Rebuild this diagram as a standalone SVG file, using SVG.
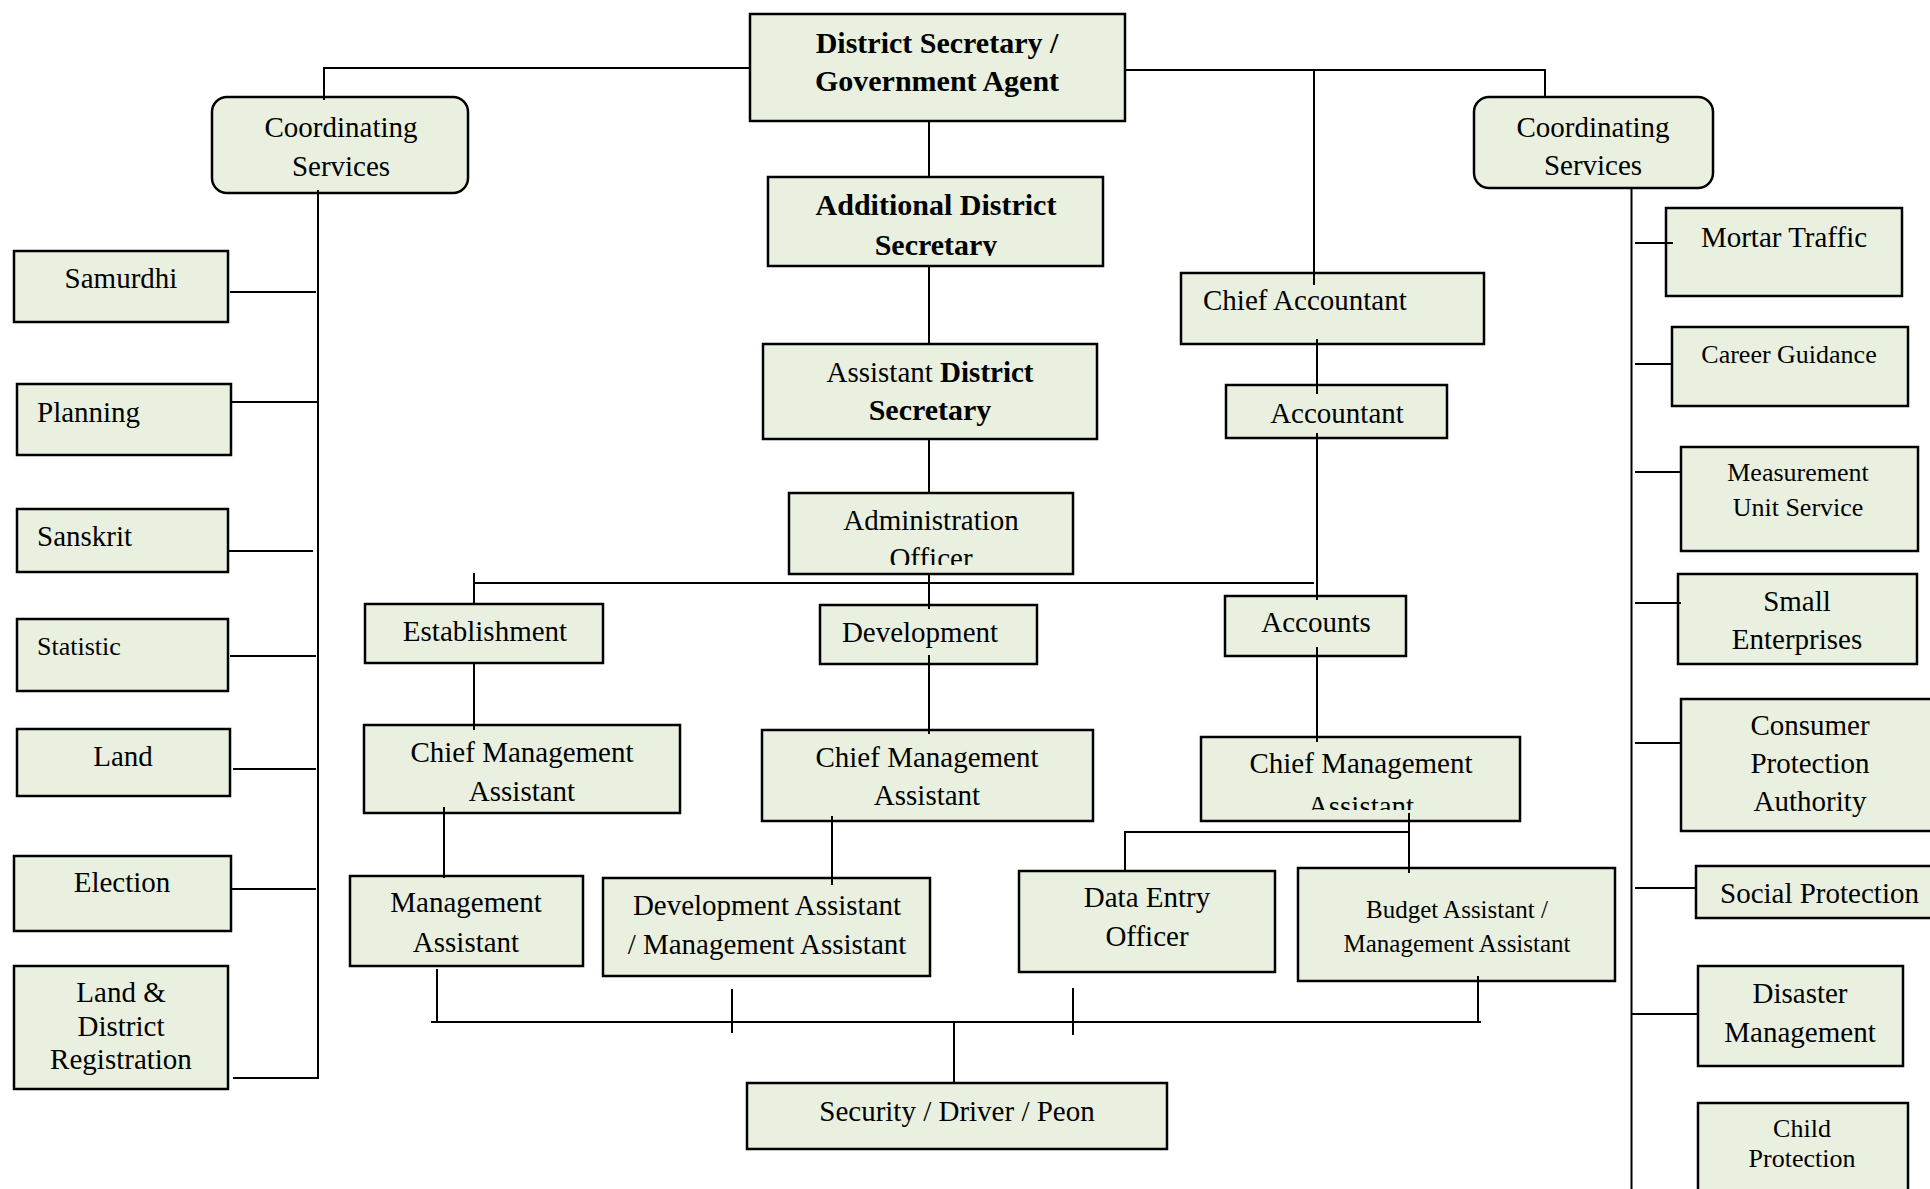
<svg xmlns="http://www.w3.org/2000/svg" width="1930" height="1189" viewBox="0 0 1930 1189">
<style>
.bx{fill:#e9f0df;stroke:#000;stroke-width:2.5}
.t{font-family:"Liberation Serif","Times New Roman",serif;font-size:29px;fill:#000;text-anchor:middle}
.b{font-weight:bold;font-size:30px}
.s26{font-size:26px}
.s25{font-size:25px}
.l{text-anchor:start}
.c{fill:none;stroke:#000;stroke-width:2}
</style>
<defs>
<clipPath id="clipAds"><rect x="768" y="177" width="335" height="79"/></clipPath>
<clipPath id="clipAo"><rect x="789" y="493" width="284" height="72"/></clipPath>
<clipPath id="clipCmaR"><rect x="1200" y="737" width="320" height="73"/></clipPath>
</defs>
<rect width="1930" height="1189" fill="#fff"/>

<g id="ds"><rect class="bx" x="750" y="14" width="375" height="107"/>
<text class="t b" x="937" y="53">District Secretary /</text>
<text class="t b" x="937" y="91">Government Agent</text></g>

<g id="coord-left"><rect class="bx" x="212" y="97" width="256" height="96" rx="15"/>
<text class="t" x="341" y="137">Coordinating</text>
<text class="t" x="341" y="176">Services</text></g>

<g id="coord-right"><rect class="bx" x="1474" y="97" width="239" height="91" rx="15"/>
<text class="t" x="1593" y="137">Coordinating</text>
<text class="t" x="1593" y="175">Services</text></g>

<g id="ads"><rect class="bx" x="768" y="177" width="335" height="89"/>
<g clip-path="url(#clipAds)"><text class="t b" x="936" y="215">Additional District</text>
<text class="t b" x="936" y="255">Secretary</text></g></g>

<g id="asds"><rect class="bx" x="763" y="344" width="334" height="95"/>
<text class="t" x="930" y="382">Assistant <tspan font-weight="bold">District</tspan></text>
<text class="t b" x="930" y="420">Secretary</text></g>

<g id="ao"><rect class="bx" x="789" y="493" width="284" height="81"/>
<g clip-path="url(#clipAo)"><text class="t" x="931" y="530">Administration</text>
<text class="t" x="931" y="568">Officer</text></g></g>

<g id="chief-accountant"><rect class="bx" x="1181" y="273" width="303" height="71"/>
<text class="t l" x="1203" y="310">Chief Accountant</text></g>

<g id="accountant"><rect class="bx" x="1226" y="385" width="221" height="53"/>
<text class="t" x="1337" y="423">Accountant</text></g>

<g id="establishment"><rect class="bx" x="365" y="604" width="238" height="59"/>
<text class="t" x="485" y="641">Establishment</text></g>

<g id="development"><rect class="bx" x="820" y="605" width="217" height="59"/>
<text class="t" x="920" y="642">Development</text></g>

<g id="accounts"><rect class="bx" x="1225" y="596" width="181" height="60"/>
<text class="t" x="1316" y="632">Accounts</text></g>

<g id="cma-left"><rect class="bx" x="364" y="725" width="316" height="88"/>
<text class="t" x="522" y="762">Chief Management</text>
<text class="t" x="522" y="801">Assistant</text></g>

<g id="cma-mid"><rect class="bx" x="762" y="730" width="331" height="91"/>
<text class="t" x="927" y="767">Chief Management</text>
<text class="t" x="927" y="805">Assistant</text></g>

<g id="cma-right"><rect class="bx" x="1201" y="737" width="319" height="84"/>
<text class="t" x="1361" y="773">Chief Management</text>
<g clip-path="url(#clipCmaR)"><text class="t" x="1361" y="816">Assistant</text></g></g>

<g id="ma"><rect class="bx" x="350" y="876" width="233" height="90"/>
<text class="t" x="466" y="912">Management</text>
<text class="t" x="466" y="952">Assistant</text></g>

<g id="dev-asst"><rect class="bx" x="603" y="878" width="327" height="98"/>
<text class="t" x="767" y="915">Development Assistant</text>
<text class="t" x="767" y="954">/ Management Assistant</text></g>

<g id="deo"><rect class="bx" x="1019" y="871" width="256" height="101"/>
<text class="t" x="1147" y="907">Data Entry</text>
<text class="t" x="1147" y="946">Officer</text></g>

<g id="budget"><rect class="bx" x="1298" y="868" width="317" height="113"/>
<text class="t s25" x="1457" y="918">Budget Assistant /</text>
<text class="t s25" x="1457" y="952">Management Assistant</text></g>

<g id="security"><rect class="bx" x="747" y="1083" width="420" height="66"/>
<text class="t" x="957" y="1121">Security / Driver / Peon</text></g>

<g id="samurdhi"><rect class="bx" x="14" y="251" width="214" height="71"/>
<text class="t" x="121" y="288">Samurdhi</text></g>

<g id="planning"><rect class="bx" x="17" y="384" width="214" height="71"/>
<text class="t l" x="37" y="422">Planning</text></g>

<g id="sanskrit"><rect class="bx" x="17" y="509" width="211" height="63"/>
<text class="t l" x="37" y="546">Sanskrit</text></g>

<g id="statistic"><rect class="bx" x="17" y="619" width="211" height="72"/>
<text class="t s26 l" x="37" y="655">Statistic</text></g>

<g id="land"><rect class="bx" x="17" y="729" width="213" height="67"/>
<text class="t" x="123" y="766">Land</text></g>

<g id="election"><rect class="bx" x="14" y="856" width="217" height="75"/>
<text class="t" x="122" y="892">Election</text></g>

<g id="land-district"><rect class="bx" x="14" y="966" width="214" height="123"/>
<text class="t" x="121" y="1002">Land &amp;</text>
<text class="t" x="121" y="1036">District</text>
<text class="t" x="121" y="1069">Registration</text></g>

<g id="mortar"><rect class="bx" x="1666" y="208" width="236" height="88"/>
<text class="t" x="1784" y="247">Mortar Traffic</text></g>

<g id="career"><rect class="bx" x="1672" y="327" width="236" height="79"/>
<text class="t s26" x="1789" y="363">Career Guidance</text></g>

<g id="measurement"><rect class="bx" x="1681" y="447" width="237" height="104"/>
<text class="t s26" x="1798" y="481">Measurement</text>
<text class="t s26" x="1798" y="516">Unit Service</text></g>

<g id="small"><rect class="bx" x="1678" y="574" width="239" height="90"/>
<text class="t" x="1797" y="611">Small</text>
<text class="t" x="1797" y="649">Enterprises</text></g>

<g id="consumer"><rect class="bx" x="1681" y="699" width="260" height="132"/>
<text class="t" x="1810" y="735">Consumer</text>
<text class="t" x="1810" y="773">Protection</text>
<text class="t" x="1810" y="811">Authority</text></g>

<g id="social"><rect class="bx" x="1696" y="866" width="245" height="52"/>
<text class="t l" x="1720" y="903">Social Protection</text></g>

<g id="disaster"><rect class="bx" x="1698" y="966" width="205" height="100"/>
<text class="t" x="1800" y="1003">Disaster</text>
<text class="t" x="1800" y="1042">Management</text></g>

<g id="child"><rect class="bx" x="1698" y="1103" width="210" height="100"/>
<text class="t s26" x="1802" y="1137">Child</text>
<text class="t s26" x="1802" y="1167">Protection</text></g>

<g id="connectors" class="c">
<path d="M324,100 V68 H750"/>
<path d="M1125,70 H1545 V97"/>
<path d="M1314,70 V285"/>
<path d="M929,121 V177 M929,266 V344 M929,439 V493 M929,574 V609 M929,655 V734"/>
<path d="M474,573 V604 M474,583 H1314"/>
<path d="M474,663 V730"/>
<path d="M444,807 V878"/>
<path d="M832,816 V885"/>
<path d="M1317,339 V394 M1317,433 V600 M1317,647 V742"/>
<path d="M1409,813 V873 M1125,871 V832 H1409"/>
<path d="M431,1022 H1481 M437,969 V1022 M732,989 V1033 M1073,988 V1035 M1478,976 V1022 M954,1022 V1083"/>
<path d="M318,190 V1079 M230,292 H316 M231,402 H318 M228,551 H313 M230,656 H316 M233,769 H316 M231,889 H316 M233,1078 H318"/>
<path d="M1631.5,188 V1189 M1635,243 H1673 M1635,364 H1673 M1635,472 H1681 M1635,603 H1681 M1635,743 H1681 M1635,888 H1696 M1631,1014 H1698"/>
</g>
</svg>
